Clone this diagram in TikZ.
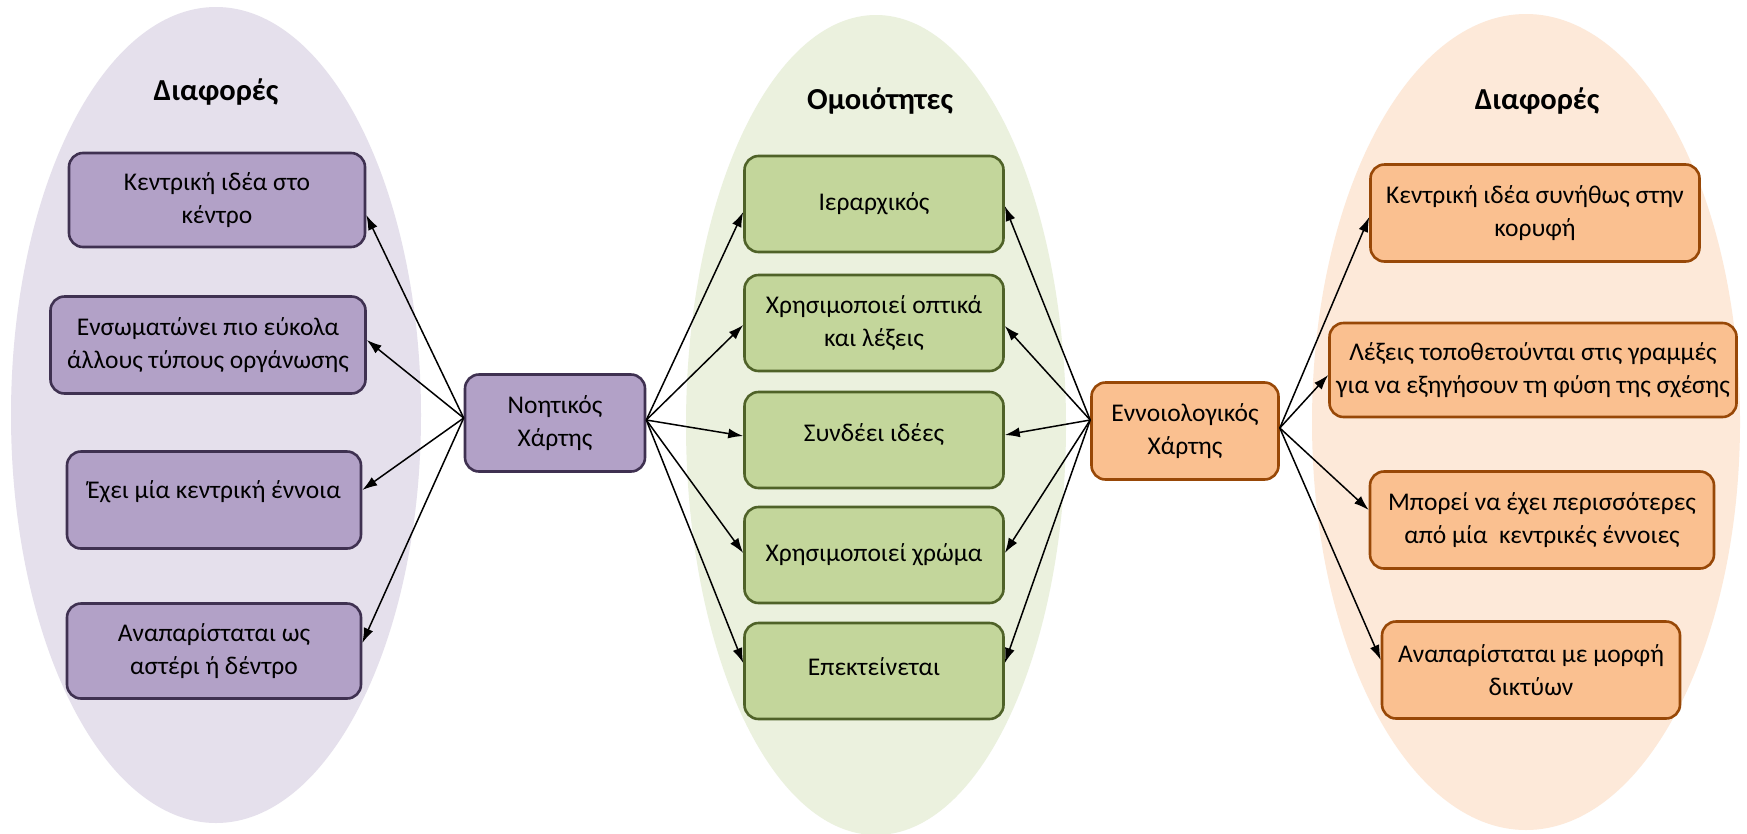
\documentclass[tikz,border=0pt]{standalone}
\usepackage{fontspec}
\setmainfont{Carlito}
\usetikzlibrary{arrows.meta}

\definecolor{lavbg}{RGB}{229,224,236}
\definecolor{lavbox}{RGB}{178,161,199}
\definecolor{lavline}{RGB}{63,49,81}
\definecolor{grnbg}{RGB}{235,241,222}
\definecolor{grnbox}{RGB}{195,214,155}
\definecolor{grnline}{RGB}{79,98,40}
\definecolor{orgbg}{RGB}{253,233,217}
\definecolor{orgbox}{RGB}{250,192,144}
\definecolor{orgline}{RGB}{152,72,7}

\tikzset{
  card/.style={rectangle, rounded corners=14pt, line width=2.6pt, align=center,
    font=\fontsize{25.5}{33}\selectfont, inner sep=4pt, text=black},
  lavcard/.style={card, fill=lavbox, draw=lavline},
  grncard/.style={card, fill=grnbox, draw=grnline},
  orgcard/.style={card, fill=orgbox, draw=orgline},
  heading/.style={font=\fontsize{30.5}{34}\selectfont\bfseries, text=black},
  arr/.style={-{Latex[length=15pt,width=10pt]}, line width=1.5pt, black},
}

\begin{document}
\begin{tikzpicture}[x=1pt,y=-1pt]
\useasboundingbox[fill=white] (0,0) rectangle (1747,833);

% background ovals
\fill[lavbg] (216,415) ellipse [x radius=205, y radius=408];
\fill[grnbg] (876,425) ellipse [x radius=190, y radius=410];
\fill[orgbg] (1526,422) ellipse [x radius=214, y radius=408];

% headings
\node[heading] (hl) at (216,92) {Διαφορές};
\node[heading] (hm) at (880,101) {Ομοιότητες};
\node[heading] (hr) at (1537,101) {Διαφορές};

% mind map side
\node[lavcard, minimum width=296pt, minimum height=94pt] (l1) at (217,200) {Κεντρική ιδέα στο\\κέντρο};
\node[lavcard, minimum width=315pt, minimum height=97pt] (l2) at (208,345) {Ενσωματώνει πιο εύκολα\\άλλους τύπους οργάνωσης};
\node[lavcard, minimum width=294pt, minimum height=97pt] (l3) at (214,500) {\raisebox{20pt}{Έχει μία κεντρική έννοια}};
\node[lavcard, minimum width=294pt, minimum height=95pt] (l4) at (214,651) {Αναπαρίσταται ως\\αστέρι ή δέντρο};
\node[lavcard, minimum width=180pt, minimum height=97pt] (nm) at (555,423) {Νοητικός\\Χάρτης};

% shared features
\node[grncard, minimum width=259pt, minimum height=96pt] (m1) at (874,204) {Ιεραρχικός};
\node[grncard, minimum width=259pt, minimum height=96pt] (m2) at (874,323) {Χρησιμοποιεί οπτικά\\και λέξεις};
\node[grncard, minimum width=259pt, minimum height=96pt] (m3) at (874,440) {\raisebox{14pt}{Συνδέει ιδέες}};
\node[grncard, minimum width=259pt, minimum height=96pt] (m4) at (874,555) {Χρησιμοποιεί χρώμα};
\node[grncard, minimum width=259pt, minimum height=96pt] (m5) at (874,671) {\raisebox{8pt}{Επεκτείνεται}};

% concept map side
\node[orgcard, minimum width=187pt, minimum height=97pt] (ec) at (1185,431) {Εννοιολογικός\\Χάρτης};
\node[orgcard, minimum width=329pt, minimum height=97pt] (r1) at (1535,213) {Κεντρική ιδέα συνήθως στην\\κορυφή};
\node[orgcard, minimum width=407pt, minimum height=94pt] (r2) at (1533,370) {Λέξεις τοποθετούνται στις γραμμές\\για να εξηγήσουν τη φύση της σχέσης};
\node[orgcard, minimum width=344pt, minimum height=97pt] (r3) at (1542,520) {Μπορεί να έχει περισσότερες\\από μία\ \ κεντρικές έννοιες};
\node[orgcard, minimum width=298pt, minimum height=97pt] (r4) at (1531,670) {Αναπαρίσταται με μορφή\\δικτύων};

% connectors from the mind map
\draw[arr] ([yshift=5pt]nm.west) -- ([yshift=-15pt]l1.east);
\draw[arr] ([yshift=5pt]nm.west) -- ([yshift=5pt]l2.east);
\draw[arr] ([yshift=5pt]nm.west) -- ([yshift=10pt]l3.east);
\draw[arr] ([yshift=5pt]nm.west) -- ([yshift=8pt]l4.east);
\draw[arr] ([yshift=3pt]nm.east) -- ([yshift=-8pt]m1.west);
\draw[arr] ([yshift=3pt]nm.east) -- ([yshift=-2pt]m2.west);
\draw[arr] ([yshift=3pt]nm.east) -- ([yshift=4pt]m3.west);
\draw[arr] ([yshift=3pt]nm.east) -- ([yshift=2pt]m4.west);
\draw[arr] ([yshift=3pt]nm.east) -- ([yshift=8pt]m5.west);

% connectors from the concept map
\draw[arr] ([yshift=11pt]ec.west) -- ([yshift=-2pt]m1.east);
\draw[arr] ([yshift=11pt]ec.west) -- ([yshift=-3pt]m2.east);
\draw[arr] ([yshift=11pt]ec.west) -- ([yshift=5pt]m3.east);
\draw[arr] ([yshift=11pt]ec.west) -- ([yshift=2pt]m4.east);
\draw[arr] ([yshift=11pt]ec.west) -- ([yshift=8pt]m5.east);
\draw[arr] ([yshift=3pt]ec.east) -- ([yshift=-4pt]r1.west);
\draw[arr] ([yshift=3pt]ec.east) -- ([yshift=-5pt]r2.west);
\draw[arr] ([yshift=3pt]ec.east) -- ([yshift=10pt]r3.west);
\draw[arr] ([yshift=3pt]ec.east) -- ([yshift=10pt]r4.west);
\end{tikzpicture}
\end{document}
